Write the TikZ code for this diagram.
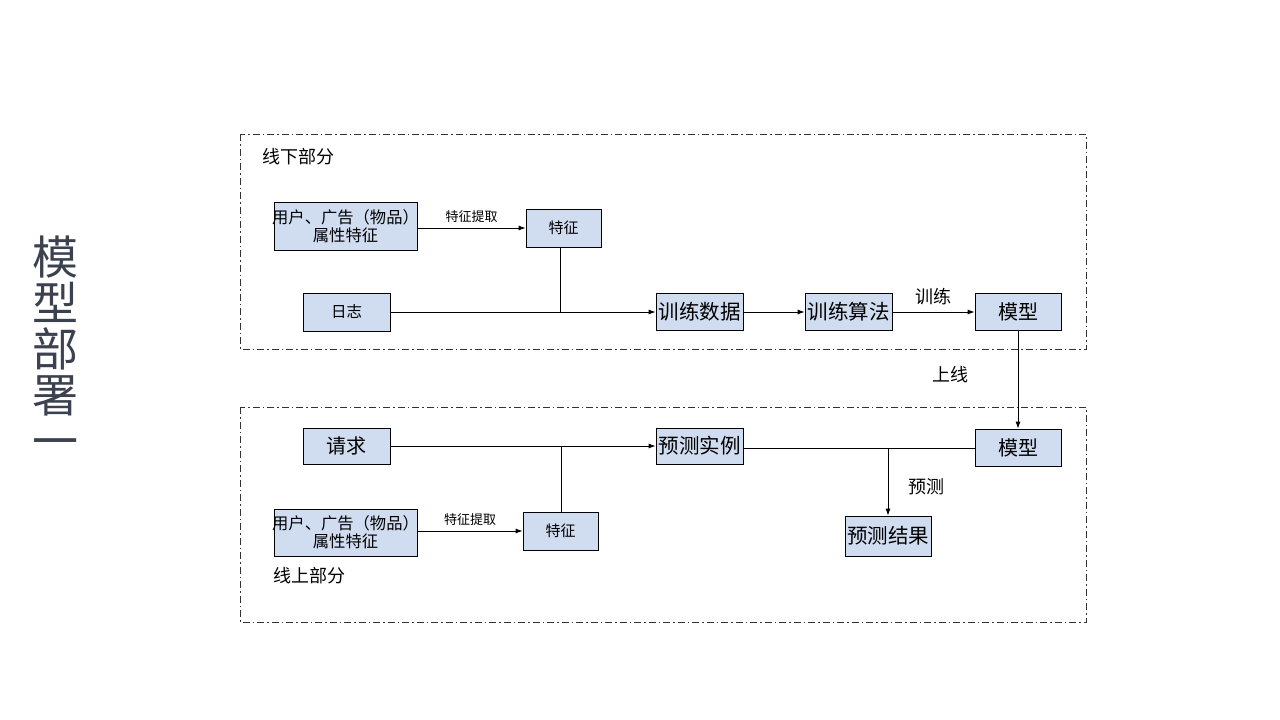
\documentclass[tikz,border=0pt]{standalone}
\usepackage{fontspec}
\setmainfont{Noto Sans CJK SC}
\usetikzlibrary{arrows.meta}
\definecolor{boxfill}{HTML}{D0DCF0}
\definecolor{titlec}{HTML}{3C4150}
\definecolor{framec}{HTML}{333333}
\begin{document}
\begin{tikzpicture}[x=1pt,y=-1pt,
  box/.style={draw=black,fill=boxfill,line width=0.8pt,inner sep=0pt,align=center,anchor=center},
  conn/.style={line width=0.8pt,draw=black},
  arr/.style={conn,-{Latex[length=7pt,width=5pt]}},
  frame/.style={draw=framec,line width=0.8pt,dash pattern=on 7pt off 3pt on 1.5pt off 3pt},
  lbl/.style={inner sep=0pt,anchor=center,text=black}]
\useasboundingbox (0,0) rectangle (1280,720);
% title
\node[lbl,text=titlec,align=center,font=\fontsize{46}{46}\selectfont] (title) at (55,347) {模\\型\\部\\署\\一};
% frames
\draw[frame] (240,134) rectangle (1086,349);
\draw[frame] (240,407) rectangle (1086,622);
\node[lbl,anchor=west,font=\fontsize{18}{20}\selectfont] (offl) at (262,157) {线下部分};
\node[lbl,anchor=west,font=\fontsize{18}{20}\selectfont] (onl) at (273,576) {线上部分};
% offline boxes
\node[box,minimum width=143pt,minimum height=48pt,font=\fontsize{16.3}{18}\selectfont] (a1) at (345.5,226) {\makebox[0pt]{用户、广告（物品）}\\属性特征};
\node[box,minimum width=75pt,minimum height=38pt,font=\fontsize{15}{18}\selectfont] (f1) at (563.5,228) {特征};
\node[box,minimum width=87pt,minimum height=38pt,font=\fontsize{15.5}{18}\selectfont] (log) at (346.5,312) {日志};
\node[box,minimum width=87pt,minimum height=37pt,font=\fontsize{20.5}{22}\selectfont] (td) at (699.5,312) {训练数据};
\node[box,minimum width=87pt,minimum height=37pt,font=\fontsize{20.5}{22}\selectfont] (ta) at (848.5,312) {训练算法};
\node[box,minimum width=86pt,minimum height=37pt,font=\fontsize{20}{22}\selectfont] (m1) at (1018,312) {模型};
% online boxes
\node[box,minimum width=87pt,minimum height=36pt,font=\fontsize{20}{22}\selectfont] (req) at (346.5,446) {请求};
\node[box,minimum width=87pt,minimum height=36pt,font=\fontsize{20.5}{22}\selectfont] (pi) at (699.5,446) {预测实例};
\node[box,minimum width=86pt,minimum height=37pt,font=\fontsize{20}{22}\selectfont] (m2) at (1018,447.5) {模型};
\node[box,minimum width=75pt,minimum height=38pt,font=\fontsize{15}{18}\selectfont] (f2) at (560.5,531) {特征};
\node[box,minimum width=143pt,minimum height=47pt,font=\fontsize{16.3}{18}\selectfont] (a2) at (345.5,532.5) {\makebox[0pt]{用户、广告（物品）}\\属性特征};
\node[box,minimum width=86pt,minimum height=40pt,font=\fontsize{20.5}{22}\selectfont] (pr) at (888,536) {预测结果};
% offline connectors
\draw[arr] (f1.west -| a1.east) -- node[lbl,above=5pt,font=\fontsize{13}{15}\selectfont] (l1) {特征提取} (f1.west);
\draw[arr] (log.east) -- (td.west);
\draw[conn] (f1.south -| 560,0) -- (560,312);
\draw[arr] (td.east) -- (ta.west);
\draw[arr] (ta.east) -- node[lbl,above=7pt,font=\fontsize{18}{20}\selectfont] (l2) {训练} (m1.west);
\draw[arr] (m1.south) -- (m2.north);
\node[lbl,font=\fontsize{18}{20}\selectfont] (l3) at (950,375) {上线};
% online connectors
\draw[arr] (req.east) -- (pi.west);
\draw[conn] (f2.north -| 561,0) -- (561,446);
\draw[arr] (f2.west -| a2.east) -- node[lbl,above=5pt,font=\fontsize{13}{15}\selectfont] (l4) {特征提取} (f2.west);
\coordinate (j) at (888,448);
\draw[conn] (pi.east |- j) -- (m2.west |- j);
\draw[arr] (j) -- (pr.north);
\node[lbl,font=\fontsize{18}{20}\selectfont] (l5) at (926,487) {预测};
\end{tikzpicture}
\end{document}
